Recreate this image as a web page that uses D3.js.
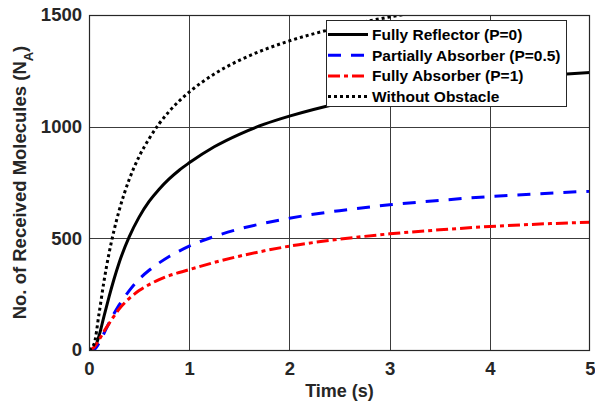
<!DOCTYPE html>
<html>
<head>
<meta charset="utf-8">
<script src="https://cdn.jsdelivr.net/npm/d3@7"></script>
<style>
    body { margin: 0; background: #fff; }
    svg { display: block; font-family: "Liberation Sans", Arial, sans-serif; font-weight: bold; }
</style>
</head>
<body>
<svg id="chart" width="595" height="406"></svg>
<script>
// time axis (s)
var time = [0, 0.05, 0.1, 0.15, 0.2, 0.25, 0.3, 0.4, 0.5, 0.6, 0.7, 0.8, 0.9, 1.0, 1.25, 1.5, 1.75, 2, 2.5, 3, 3.5, 4, 4.5, 5];

// received molecules per case
var fullyReflector = [0, 6, 63, 152, 238, 318, 390, 505, 595, 665, 720, 766, 805, 838, 910, 966, 1011, 1047, 1105, 1148, 1182, 1209, 1228, 1243];
var partiallyAbsorber = [0, 2, 31, 75, 121, 163, 201, 265, 317, 357, 390, 419, 443, 465, 508, 542, 568, 590, 624, 650, 670, 687, 700, 711];
var fullyAbsorber = [0, 12, 45, 84, 118, 152, 183, 230, 266, 293, 315, 333, 347, 360, 392, 420, 444, 465, 496, 520, 538, 553, 564, 572];
var withoutObstacle = [0, 26, 162, 309, 433, 536, 623, 762, 866, 946, 1013, 1068, 1115, 1155, 1236, 1297, 1345, 1384, 1445, 1491, 1526, 1555, 1579, 1600];

var legendLabels = ["Fully Reflector (P=0)", "Partially Absorber (P=0.5)", "Fully Absorber (P=1)", "Without Obstacle"];
var xTicks = [0, 1, 2, 3, 4, 5];
var yTicks = [0, 500, 1000, 1500];

var series = [
    {name: legendLabels[0], values: fullyReflector, color: "#000000", dash: null},
    {name: legendLabels[1], values: partiallyAbsorber, color: "#0000ff", dash: "13,10"},
    {name: legendLabels[2], values: fullyAbsorber, color: "#ff0000", dash: "12,4,4,4"},
    {name: legendLabels[3], values: withoutObstacle, color: "#000000", dash: "3,3"}
];

// plot box (window.top is taken, so prefixed names)
var plotL = 89, plotR = 590, plotT = 15, plotB = 350;

var x = d3.scaleLinear().domain([0, 5]).range([plotL, plotR]);
var y = d3.scaleLinear().domain([0, 1500]).range([plotB, plotT]);

var svg = d3.select("#chart");

svg.append("defs").append("clipPath")
    .attr("id", "plotClip")
    .append("rect")
    .attr("x", plotL).attr("y", plotT)
    .attr("width", plotR - plotL).attr("height", plotB - plotT);

// grid
var grid = svg.append("g").attr("stroke", "#3c3c3c").attr("stroke-width", 1);
grid.selectAll(".vg")
    .data(xTicks.slice(1, -1))
    .enter().append("line")
    .attr("x1", function(d) { return Math.round(x(d)) + 0.5; })
    .attr("x2", function(d) { return Math.round(x(d)) + 0.5; })
    .attr("y1", plotT).attr("y2", plotB);
grid.selectAll(".hg")
    .data(yTicks.slice(1, -1))
    .enter().append("line")
    .attr("y1", function(d) { return Math.round(y(d)) + 0.5; })
    .attr("y2", function(d) { return Math.round(y(d)) + 0.5; })
    .attr("x1", plotL).attr("x2", plotR);

// curves
var line = d3.line()
    .x(function(d) { return x(d[0]); })
    .y(function(d) { return y(d[1]); })
    .curve(d3.curveMonotoneX);

var plot = svg.append("g").attr("clip-path", "url(#plotClip)");
series.forEach(function(s) {
    var pts = time.map(function(t, i) { return [t, s.values[i]]; });
    plot.append("path")
        .attr("d", line(pts))
        .attr("fill", "none")
        .attr("stroke", s.color)
        .attr("stroke-width", 3)
        .attr("stroke-dasharray", s.dash);
});

// axes box
svg.append("rect")
    .attr("x", plotL + 0.5).attr("y", plotT + 0.5)
    .attr("width", plotR - plotL - 1).attr("height", plotB - plotT)
    .attr("fill", "none")
    .attr("stroke", "#262626")
    .attr("stroke-width", 1.2);

var xAxis = d3.axisBottom(x).tickValues(xTicks).tickSize(0).tickPadding(12).tickFormat(d3.format("d"));
var yAxis = d3.axisLeft(y).tickValues(yTicks).tickSize(0).tickPadding(7).tickFormat(d3.format("d"));

var gx = svg.append("g").attr("transform", "translate(0," + plotB + ")").call(xAxis);
var gy = svg.append("g").attr("transform", "translate(" + plotL + ",0)").call(yAxis);
[gx, gy].forEach(function(g) {
    g.select(".domain").remove();
    g.selectAll("text")
        .style("font-family", "'Liberation Sans', Arial, sans-serif")
        .style("font-weight", "bold")
        .style("font-size", "18.5px")
        .attr("fill", "#262626");
});

// axis labels
svg.append("text")
    .attr("x", (plotL + plotR) / 2)
    .attr("y", 397)
    .attr("text-anchor", "middle")
    .style("font-size", "18px")
    .attr("fill", "#262626")
    .text("Time (s)");

var yl = svg.append("text")
    .attr("transform", "translate(26," + ((plotT + plotB) / 2) + ") rotate(-90)")
    .attr("text-anchor", "middle")
    .style("font-size", "18.5px")
    .attr("fill", "#262626");
yl.append("tspan").text("No. of Received Molecules (N");
yl.append("tspan").attr("dy", 7).style("font-size", "13px").text("A");
yl.append("tspan").attr("dy", -7).text(")");

// legend
var lg = svg.append("g");
lg.append("rect")
    .attr("x", 326.5).attr("y", 20.5)
    .attr("width", 240).attr("height", 86)
    .attr("fill", "#fff")
    .attr("stroke", "#262626")
    .attr("stroke-width", 1);

var rows = lg.selectAll(".row")
    .data(series)
    .enter().append("g")
    .attr("transform", function(d, i) { return "translate(0," + (34.5 + i * 20.7) + ")"; });

rows.append("line")
    .attr("x1", 328).attr("x2", 368)
    .attr("stroke", function(d) { return d.color; })
    .attr("stroke-width", 3)
    .attr("stroke-dasharray", function(d) { return d.dash; });

rows.append("text")
    .attr("x", 372)
    .attr("dy", "0.35em")
    .style("font-size", "15.5px")
    .attr("fill", "#000")
    .text(function(d) { return d.name; });
</script>
</body>
</html>
